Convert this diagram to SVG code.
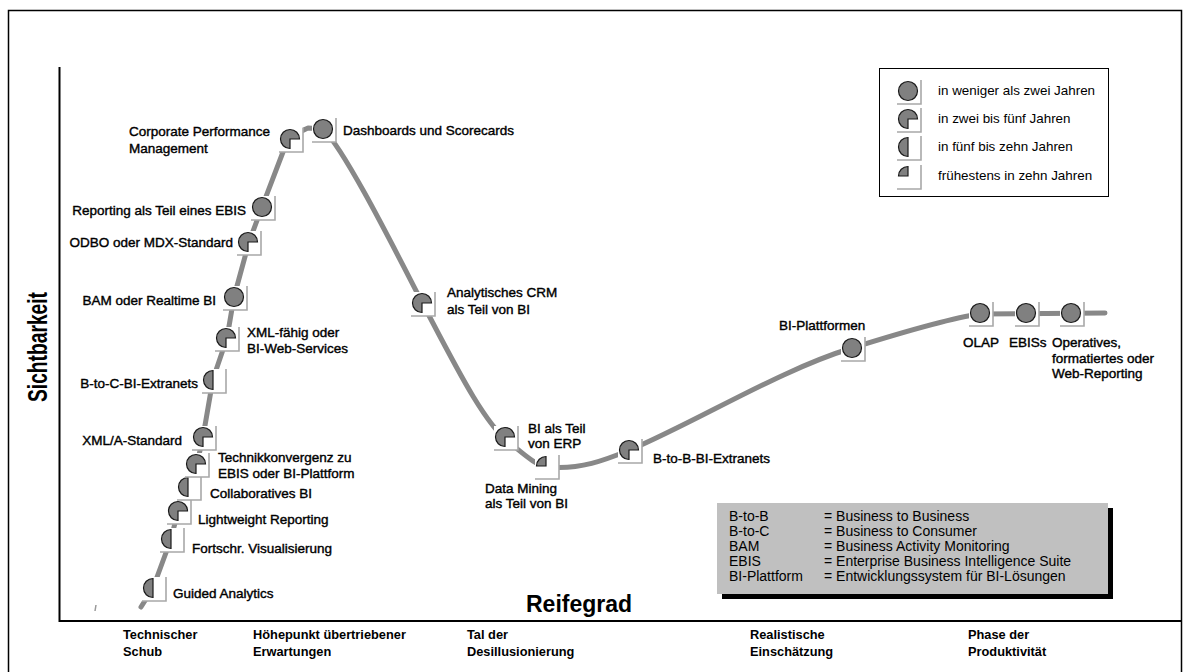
<svg xmlns="http://www.w3.org/2000/svg" xmlns:xlink="http://www.w3.org/1999/xlink" width="1187" height="672" viewBox="0 0 1187 672">
<style>
.lb{font-family:"Liberation Sans",Arial,sans-serif;font-size:13.5px;fill:#000;stroke:#000;stroke-width:0.4}
.ph{font-family:"Liberation Sans",Arial,sans-serif;font-size:12.8px;font-weight:bold;fill:#000}
.lg{font-family:"Liberation Sans",Arial,sans-serif;font-size:13.4px;fill:#000}
.ab{font-family:"Liberation Sans",Arial,sans-serif;font-size:14px;fill:#000}
.pie{fill:#808080;stroke:#1a1a1a;stroke-width:1.2}
.ax{stroke:#000;stroke-width:2;fill:none}
</style>
<defs>
<g id="bx"><rect x="-11" y="-11" width="24" height="24" fill="#fff"/><path d="M13,-11 V13 H-11" fill="none" stroke="#a8a8a8" stroke-width="1.6"/></g>
<circle id="full" r="9.5" class="pie"/>
<path id="tq" d="M0,0 V9.5 A9.5,9.5 0 1 1 9.5,0 Z" class="pie"/>
<path id="half" d="M0,-9.5 A9.5,9.5 0 0 0 0,9.5 Z" class="pie"/>
<path id="qtr" d="M0,0 H-9.5 A9.5,9.5 0 0 1 0,-9.5 Z" class="pie"/>
</defs>
<rect width="1187" height="672" fill="#fff"/>
<path d="M8.5,672 V10.5 H1181.5 V672" fill="none" stroke="#000" stroke-width="1.5"/>
<g id="axes">
<path class="ax" d="M59.5,67 V621 H1182"/>
<text transform="translate(47,347) rotate(-90)" text-anchor="middle" font-family="Liberation Sans,Arial,sans-serif" font-weight="bold" font-size="27" textLength="110" lengthAdjust="spacingAndGlyphs">Sichtbarkeit</text>
<text x="526" y="612" font-family="Liberation Sans,Arial,sans-serif" font-weight="bold" font-size="23">Reifegrad</text>
</g>
<g id="connectors">
<path d="M141,607 L153,588 L171,539 L178,511 L188,487 L197,464 L203,437 L213,379 L227,338 L234,297 L249,242 L262,207 L283,152 Q290,135 308,128 L323,129 C345,150 395,250 425,308 C455,365 485,425 510,443 C525,455 535,465 548,467 C580,470 605,460 630,450 C700,420 780,370 852,348 C900,333 950,318 980,314 L1105,313" fill="none" stroke="#888" stroke-width="5" stroke-linecap="round" stroke-linejoin="round"/>
<path d="M96,605 L95,611" stroke="#999" stroke-width="1.5"/>
</g>
<g id="n-guided"><use href="#bx" x="153" y="588"/><use href="#half" x="153" y="588"/><text class="lb" x="173" y="598">Guided Analytics</text></g>
<g id="n-fortschr"><use href="#bx" x="171" y="539"/><use href="#half" x="171" y="539"/><text class="lb" x="192" y="553">Fortschr. Visualisierung</text></g>
<g id="n-lightweight"><use href="#bx" x="178" y="511"/><use href="#tq" x="178" y="511"/><text class="lb" x="198" y="524">Lightweight Reporting</text></g>
<g id="n-collab"><use href="#bx" x="188" y="487"/><use href="#half" x="188" y="487"/><text class="lb" x="210" y="498">Collaboratives BI</text></g>
<g id="n-technik"><use href="#bx" x="196" y="464"/><use href="#tq" x="196" y="464"/><text class="lb" x="218" y="462">Technikkonvergenz zu</text><text class="lb" x="218" y="478">EBIS oder BI-Plattform</text></g>
<g id="n-xmla"><use href="#bx" x="203" y="437"/><use href="#tq" x="203" y="437"/><text class="lb" x="182" y="445" text-anchor="end">XML/A-Standard</text></g>
<g id="n-b2c"><use href="#bx" x="213" y="380"/><use href="#half" x="213" y="380"/><text class="lb" x="198" y="388" text-anchor="end">B-to-C-BI-Extranets</text></g>
<g id="n-xmlws"><use href="#bx" x="226" y="338"/><use href="#tq" x="226" y="338"/><text class="lb" x="247" y="337">XML-fähig oder</text><text class="lb" x="247" y="353">BI-Web-Services</text></g>
<g id="n-bam"><use href="#bx" x="234" y="297"/><use href="#full" x="234" y="297"/><text class="lb" x="216" y="305" text-anchor="end">BAM oder Realtime BI</text></g>
<g id="n-odbo"><use href="#bx" x="248" y="242"/><use href="#tq" x="248" y="242"/><text class="lb" x="233" y="247" text-anchor="end">ODBO oder MDX-Standard</text></g>
<g id="n-reporting"><use href="#bx" x="262" y="207"/><use href="#full" x="262" y="207"/><text class="lb" x="246" y="215" text-anchor="end">Reporting als Teil eines EBIS</text></g>
<g id="n-cpm"><use href="#bx" x="290" y="139"/><use href="#tq" x="290" y="139"/><text class="lb" x="129" y="136">Corporate Performance</text><text class="lb" x="129" y="153">Management</text></g>
<g id="n-dash"><use href="#bx" x="323" y="129"/><use href="#full" x="323" y="129"/><text class="lb" x="343" y="135">Dashboards und Scorecards</text></g>
<g id="n-crm"><use href="#bx" x="422" y="303"/><use href="#tq" x="422" y="303"/><text class="lb" x="447" y="297">Analytisches CRM</text><text class="lb" x="447" y="314">als Teil von BI</text></g>
<g id="n-erp"><use href="#bx" x="505" y="437"/><use href="#tq" x="505" y="437"/><text class="lb" x="528" y="433">BI als Teil</text><text class="lb" x="528" y="448">von ERP</text></g>
<g id="n-dm"><use href="#bx" x="546" y="466"/><use href="#qtr" x="546" y="466"/><text class="lb" x="485" y="493">Data Mining</text><text class="lb" x="485" y="508">als Teil von BI</text></g>
<g id="n-b2b"><use href="#bx" x="629" y="450"/><use href="#tq" x="629" y="450"/><text class="lb" x="653" y="463">B-to-B-BI-Extranets</text></g>
<g id="n-biplatt"><use href="#bx" x="852" y="348"/><use href="#full" x="852" y="348"/><text class="lb" x="779" y="330">BI-Plattformen</text></g>
<g id="n-olap"><use href="#bx" x="980" y="313"/><use href="#full" x="980" y="313"/><text class="lb" x="963" y="347">OLAP</text></g>
<g id="n-ebiss"><use href="#bx" x="1026" y="313"/><use href="#full" x="1026" y="313"/><text class="lb" x="1009" y="347">EBISs</text></g>
<g id="n-operatives"><use href="#bx" x="1071" y="313"/><use href="#full" x="1071" y="313"/><text class="lb" x="1052" y="347">Operatives,</text><text class="lb" x="1052" y="363">formatiertes oder</text><text class="lb" x="1052" y="378">Web-Reporting</text></g>
<g id="legend">
<rect x="879.5" y="68.5" width="229" height="128" fill="#fff" stroke="#000" stroke-width="1"/>
<use href="#bx" x="908" y="91"/><use href="#full" x="908" y="91"/><text class="lg" x="938" y="95">in weniger als zwei Jahren</text>
<use href="#bx" x="908" y="119"/><use href="#tq" x="908" y="119"/><text class="lg" x="938" y="123">in zwei bis fünf Jahren</text>
<use href="#bx" x="908" y="147"/><use href="#half" x="908" y="147"/><text class="lg" x="938" y="151">in fünf bis zehn Jahren</text>
<use href="#bx" x="908" y="176"/><use href="#qtr" x="908" y="176"/><text class="lg" x="938" y="180">frühestens in zehn Jahren</text>
</g>
<g id="abbrev">
<rect x="722" y="508" width="391" height="91" fill="#000"/>
<rect x="717" y="503" width="391" height="91" fill="#c0c0c0"/>
<text class="ab" x="729" y="521">B-to-B</text><text class="ab" x="824" y="521">= Business to Business</text>
<text class="ab" x="729" y="536">B-to-C</text><text class="ab" x="824" y="536">= Business to Consumer</text>
<text class="ab" x="729" y="551">BAM</text><text class="ab" x="824" y="551">= Business Activity Monitoring</text>
<text class="ab" x="729" y="566">EBIS</text><text class="ab" x="824" y="566">= Enterprise Business Intelligence Suite</text>
<text class="ab" x="729" y="581">BI-Plattform</text><text class="ab" x="824" y="581">= Entwicklungssystem für BI-Lösungen</text>
</g>
<g id="phases">
<text class="ph" x="123" y="639">Technischer</text><text class="ph" x="123" y="656">Schub</text>
<text class="ph" x="253" y="639">Höhepunkt übertriebener</text><text class="ph" x="253" y="656">Erwartungen</text>
<text class="ph" x="467" y="639">Tal der</text><text class="ph" x="467" y="656">Desillusionierung</text>
<text class="ph" x="750" y="639">Realistische</text><text class="ph" x="750" y="656">Einschätzung</text>
<text class="ph" x="968" y="639">Phase der</text><text class="ph" x="968" y="656">Produktivität</text>
</g>
</svg>
